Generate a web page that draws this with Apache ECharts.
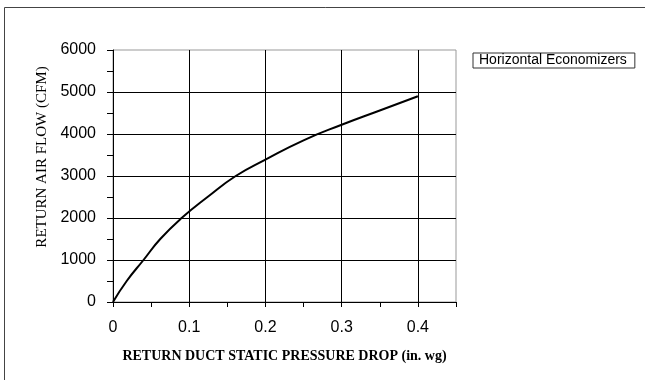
<!DOCTYPE html>
<html>
<head>
<meta charset="utf-8">
<script src="https://cdn.jsdelivr.net/npm/echarts@6/dist/echarts.min.js"></script>
<style>html,body{margin:0;padding:0;background:#fff}#c{width:645px;height:380px}</style>
</head>
<body>
<div id="c"></div>
<script>
// Data
var seriesName = 'Horizontal Economizers';
var pressureDrop = [0, 0.018, 0.04, 0.062, 0.09, 0.124, 0.161, 0.2, 0.25, 0.3, 0.35, 0.4];
var airFlow      = [0, 500, 1000, 1500, 2000, 2500, 3000, 3390, 3850, 4220, 4560, 4900];
var xTicks = [0, 0.1, 0.2, 0.3, 0.4];
var yTicks = [0, 1000, 2000, 3000, 4000, 5000, 6000];

var pts = pressureDrop.map(function (x, i) { return [x, airFlow[i]]; });
var chart = echarts.init(document.getElementById('c'), null, {renderer: 'canvas'});
var sans = 'Liberation Sans, Arial, sans-serif';
var serif = 'Liberation Serif, Times New Roman, serif';

chart.setOption({
  animation: false,
  backgroundColor: '#fff',
  graphic: [
    {type: 'rect', silent: true, shape: {x: 4.5, y: 7.5, width: 700, height: 400},
     style: {fill: 'none', stroke: '#444', lineWidth: 1}},
    {type: 'text', silent: true, x: 42, y: 157, rotation: Math.PI / 2,
     style: {text: 'RETURN AIR FLOW (CFM)', font: '15px ' + serif, fill: '#000',
             align: 'center', verticalAlign: 'middle'}}
  ],
  grid: {left: 113, right: 189, top: 50, bottom: 78, show: true, borderColor: '#999', borderWidth: 1, backgroundColor: 'transparent'},
  legend: {
    left: 473, top: 53, data: [seriesName], itemWidth: 0, itemHeight: 0,
    padding: [0, 8, 0, 0], borderColor: '#333', borderWidth: 1,
    textStyle: {fontFamily: sans, fontSize: 14, color: '#000', lineHeight: 15}
  },
  xAxis: [{
    type: 'value', min: 0, max: 0.45, interval: 0.1,
    name: 'RETURN DUCT STATIC PRESSURE DROP (in. wg)', nameLocation: 'middle', nameGap: 47,
    nameTextStyle: {fontFamily: serif, fontWeight: 'bold', fontSize: 14, color: '#000'},
    axisLine: {show: true, onZero: false, lineStyle: {color: '#000', width: 1}},
    axisTick: {show: true, length: 5, lineStyle: {color: '#000'}},
    axisLabel: {margin: 18, fontFamily: sans, fontSize: 16, color: '#000', showMaxLabel: false,
      formatter: function (v) { return xTicks.indexOf(Math.round(v * 100) / 100) >= 0 ? String(Math.round(v * 10) / 10) : ''; }},
    splitLine: {show: true, showMinLine: false, showMaxLine: false, lineStyle: {color: '#000', width: 1}}
  }, {
    type: 'value', min: 0, max: 0.45, interval: 0.05, position: 'bottom', gridIndex: 0,
    axisLine: {show: false}, axisLabel: {show: false}, splitLine: {show: false},
    axisTick: {show: true, length: 5, lineStyle: {color: '#000'}}
  }],
  yAxis: {
    type: 'value', min: 0, max: 6000, interval: 1000,
    axisLine: {show: true, onZero: false, lineStyle: {color: '#000', width: 1}},
    axisTick: {show: true, length: 6, lineStyle: {color: '#000'}},
    minorTick: {show: true, splitNumber: 2, length: 6, lineStyle: {color: '#000'}},
    axisLabel: {margin: 17, fontFamily: sans, fontSize: 16, color: '#000',
      formatter: function (v) { return yTicks.indexOf(v) >= 0 ? String(v) : ''; }},
    splitLine: {show: true, showMinLine: false, showMaxLine: false, lineStyle: {color: '#000', width: 1}}
  },
  series: [{
    name: seriesName, type: 'line', xAxisIndex: 0, data: pts, smooth: 0.5,
    showSymbol: false, symbol: 'none',
    lineStyle: {color: '#000', width: 2}, itemStyle: {color: '#000'}
  }]
});
</script>
</body>
</html>
